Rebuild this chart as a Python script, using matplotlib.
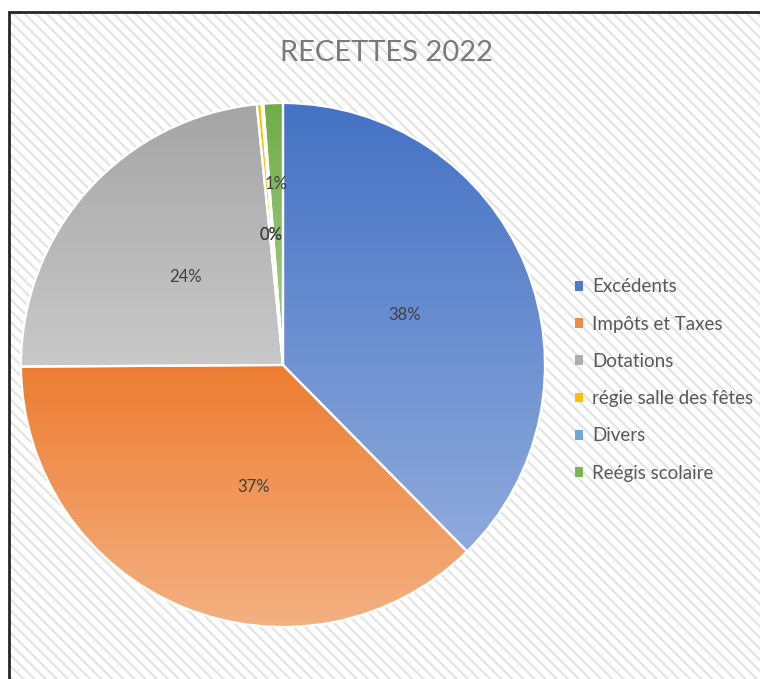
import numpy as np
import matplotlib
matplotlib.use("Agg")
import matplotlib.pyplot as plt
from matplotlib.patches import Rectangle, Patch
from matplotlib.colors import to_rgb

# data
categories = ["Excédents", "Impôts et Taxes", "Dotations",
              "régie salle des fêtes", "Divers", "Reégis scolaire"]
values = [37.6, 37.3, 23.5, 0.3, 0.1, 1.2]

# styles
top_colors = ["#4472C4", "#ED7D31", "#A5A5A5", "#FFC000", "#5B9BD5", "#70AD47"]
bottom_colors = ["#8FAADC", "#F4B183", "#C9C9C9", "#FFD966", "#9DC3E6", "#A9D18E"]
legend_colors = ["#4F79C8", "#EF8A47", "#ADADAD", "#FFC000", "#6FA6DA", "#7CB556"]
label_dist = [0.5, 0.48, 0.5, 0.5, 0.5, 0.69]
label_shift = [0, -9.2, 0, 0, -0.7, 0]

plt.rcParams['font.family'] = ['Lato', 'DejaVu Sans']
plt.rcParams['hatch.linewidth'] = 1.6

W, H = 760, 679
fig = plt.figure(figsize=(W / 100, H / 100), dpi=100)
fig.patch.set_facecolor("white")
ax = fig.add_axes([0, 0, 1, 1])
ax.set_xlim(0, W)
ax.set_ylim(0, H)
ax.axis("off")

# hatched chart area + border
ax.add_patch(Rectangle((9, -20), 800, H - 12 + 20, facecolor="white",
                       edgecolor="#E4E4E4", linewidth=0, hatch="\\\\\\", zorder=0))
ax.add_patch(Rectangle((9, -20), 800, H - 12 + 20, facecolor="none",
                       edgecolor="#262626", linewidth=2, zorder=1))

cx, cy, R = 283, H - 365, 262
wedges, _ = ax.pie(values, startangle=90, counterclock=False, center=(cx, cy),
                   radius=R, colors=["none"] * len(values),
                   wedgeprops=dict(edgecolor="white", linewidth=1.6, zorder=3),
                   frame=True)

for w, c0, c1 in zip(wedges, top_colors, bottom_colors):
    ext = w.get_path().get_extents()
    t = np.linspace(0, 1, 256)[:, None, None]
    grad = (1 - t) * np.array(to_rgb(c0)) + t * np.array(to_rgb(c1))
    im = ax.imshow(grad, extent=(ext.x0, ext.x1, ext.y0, ext.y1), origin="upper",
                   aspect="auto", zorder=2, interpolation="bilinear")
    im.set_clip_path(w)

ax.set_xlim(0, W)
ax.set_ylim(0, H)
ax.set_aspect("auto")
ax.axis("off")

# percentage labels
total = sum(values)
cum = 0
for v, d, s in zip(values, label_dist, label_shift):
    mid = (cum + v / 2) / total * 360 + s
    cum += v
    ang = np.deg2rad(90 - mid)
    pct = int(v / total * 100 + 0.5 + 1e-9)
    ax.text(cx + d * R * np.cos(ang), cy + d * R * np.sin(ang),
            "%d%%" % pct, ha="center", va="center",
            fontsize=12, color="#404040", zorder=5)

ax.text(386, H - 53, "RECETTES 2022", ha="center", va="center",
        fontsize=21, color="#7A7A7A", fontweight="normal")

handles = [Patch(facecolor=c, edgecolor="none") for c in legend_colors]
ax.legend(handles, categories, loc="center left", bbox_to_anchor=(575, H - 380),
          bbox_transform=ax.transData, frameon=False, fontsize=13.5,
          labelcolor="#595959", handlelength=0.42, handleheight=0.42,
          handletextpad=0.5, labelspacing=1.08, borderpad=0, borderaxespad=0)

fig.savefig("out.png", dpi=100)
